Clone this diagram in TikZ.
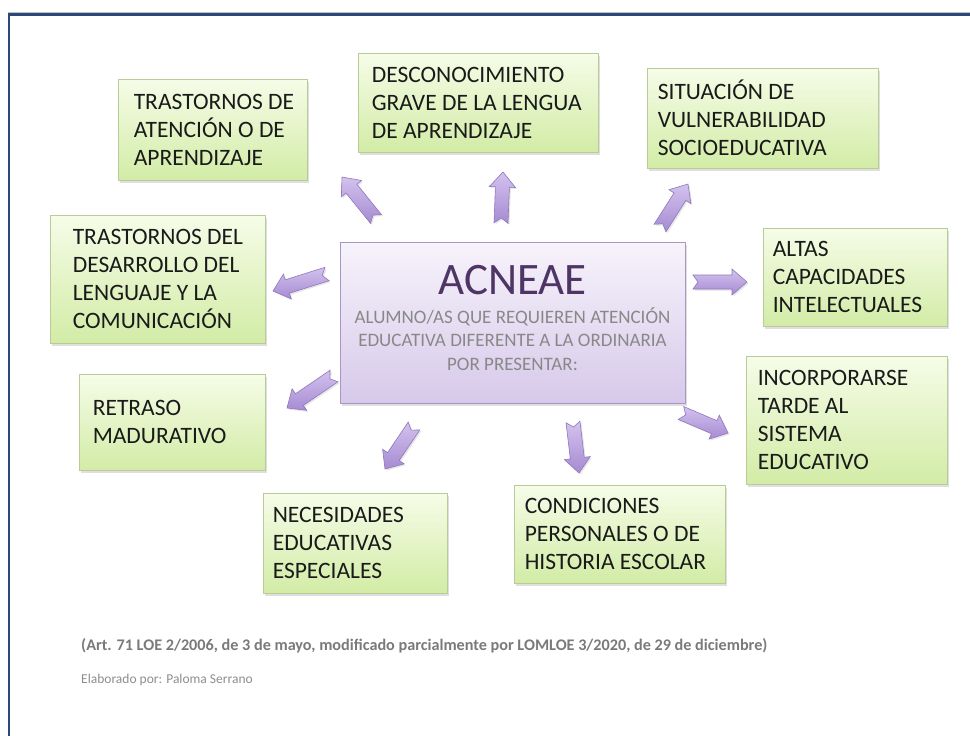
\documentclass[tikz,border=0pt]{standalone}
\usepackage{fontspec}
\setmainfont{Carlito}
\usetikzlibrary{shadows,calc}
\definecolor{boxTop}{HTML}{F6FCE8}
\definecolor{boxBot}{HTML}{D2ECA6}
\definecolor{boxLine}{HTML}{B9CC98}
\definecolor{cTop}{HTML}{F7F3FB}
\definecolor{cBot}{HTML}{D6C9EA}
\definecolor{cLine}{HTML}{A796C6}
\definecolor{titleCol}{HTML}{4E3566}
\definecolor{subCol}{HTML}{888888}
\definecolor{arrTop}{HTML}{D3C2EE}
\definecolor{arrBot}{HTML}{A68BD2}
\definecolor{arrLine}{HTML}{9077BC}
\definecolor{navy}{HTML}{2C4878}
\definecolor{footCol}{HTML}{7A7A7A}
\definecolor{txt}{HTML}{1A1A1A}
\newcommand\blockarrow[2]{%
  \path[arrowsty] let \p1=(#1), \p2=(#2),
    \n1={atan2(\y2-\y1,\x2-\x1)}, \n2={veclen(\x2-\x1,\y2-\y1)} in
    [shift={(\p1)}, rotate=\n1]
    (0pt,-7pt) -- ({\n2-15pt},-7pt) -- ({\n2-15pt},-13pt) -- ({\n2},0pt)
    -- ({\n2-15pt},13pt) -- ({\n2-15pt},7pt) -- (0pt,7pt) -- (5pt,0pt) -- cycle;}
\begin{document}
\begin{tikzpicture}[x=1pt,y=-1pt,
  gbox/.style={draw=boxLine, line width=0.8pt, top color=boxTop, bottom color=boxBot,
    drop shadow={opacity=0.25, shadow xshift=2pt, shadow yshift=-2.5pt}, inner sep=0pt},
  btxt/.style={font=\fontsize{23.5}{28}\selectfont, align=left, inner sep=0pt, text=txt, anchor=west},
  arrowsty/.style={draw=arrLine, line width=0.6pt, top color=arrTop, bottom color=arrBot,
    drop shadow={opacity=0.2, shadow xshift=1.5pt, shadow yshift=-1.5pt}}]
\useasboundingbox (0,0) rectangle (970,736);
\fill[white] (0,0) rectangle (970,736);
% frame
\draw[color=black!25, line width=1pt] (8,12) -- (970,12);
\draw[navy, line width=2.5pt] (9,736) -- (9,14.5) -- (970,14.5);
% center
\node[draw=cLine, line width=0.8pt, top color=cTop, bottom color=cBot, inner sep=0pt,
  minimum width=345pt, minimum height=161pt,
  drop shadow={opacity=0.25, shadow xshift=2pt, shadow yshift=-2.5pt}] (c) at (512.5,322.5) {};
\node[font=\fontsize{45}{48}\selectfont, text=titleCol, inner sep=0pt] (title) at (512.5,280) {ACNEAE};
\node[font=\fontsize{19}{23.5}\selectfont, text=subCol, align=center, inner sep=0pt] (sub) at (512.5,339)
  {ALUMNO/AS QUE REQUIEREN ATENCIÓN\\EDUCATIVA DIFERENTE A LA ORDINARIA\\POR PRESENTAR:};
% boxes
\node[gbox, minimum width=189pt, minimum height=101pt] (b1) at (212.5,129.5) {};
\node[btxt] (t1) at ($(b1.west)+(16,0)$) {TRASTORNOS DE\\ATENCIÓN O DE\\APRENDIZAJE};
\node[gbox, minimum width=240pt, minimum height=99pt] (b2) at (478,102.5) {};
\node[btxt] (t2) at ($(b2.west)+(14,0)$) {DESCONOCIMIENTO\\GRAVE DE LA LENGUA\\DE APRENDIZAJE};
\node[gbox, minimum width=231pt, minimum height=100pt] (b3) at (762.5,118) {};
\node[btxt] (t3) at ($(b3.west)+(11,0)$) {SITUACIÓN DE\\VULNERABILIDAD\\SOCIOEDUCATIVA};
\node[gbox, minimum width=184pt, minimum height=98pt] (b4) at (855,277) {};
\node[btxt] (t4) at ($(b4.west)+(10,0)$) {ALTAS\\CAPACIDADES\\INTELECTUALES};
\node[gbox, minimum width=201pt, minimum height=128pt] (b5) at (846.5,420) {};
\node[btxt] (t5) at ($(b5.west)+(12,0)$) {INCORPORARSE\\TARDE AL\\SISTEMA\\EDUCATIVO};
\node[gbox, minimum width=211pt, minimum height=98pt] (b6) at (619.5,534) {};
\node[btxt] (t6) at ($(b6.west)+(11,0)$) {CONDICIONES\\PERSONALES O DE\\HISTORIA ESCOLAR};
\node[gbox, minimum width=184pt, minimum height=100pt] (b7) at (355,543) {};
\node[btxt] (t7) at ($(b7.west)+(10,0)$) {NECESIDADES\\EDUCATIVAS\\ESPECIALES};
\node[gbox, minimum width=186pt, minimum height=96pt] (b8) at (172,422) {};
\node[btxt] (t8) at ($(b8.west)+(14,0)$) {RETRASO\\MADURATIVO};
\node[gbox, minimum width=215pt, minimum height=128pt] (b9) at (157.5,279) {};
\node[btxt] (t9) at ($(b9.west)+(23,0)$) {TRASTORNOS DEL\\DESARROLLO DEL\\LENGUAJE Y LA\\COMUNICACIÓN};
% arrow ends
\coordinate (s1) at (376,219); \coordinate (e1) at (342,177);
\coordinate (s2) at (501,223); \coordinate (e2) at (503,172);
\coordinate (s3) at (660,228); \coordinate (e3) at (688,184);
\coordinate (s4) at (693,282); \coordinate (e4) at (747,282);
\coordinate (s5) at (327,274); \coordinate (e5) at (273,291);
\coordinate (s6) at (334,376); \coordinate (e6) at (287,408);
\coordinate (s7) at (414,426); \coordinate (e7) at (385,469);
\coordinate (s8) at (573,422); \coordinate (e8) at (579,473);
\coordinate (s9) at (681,413); \coordinate (e9) at (728,433);
\blockarrow{s1}{e1}
\blockarrow{s2}{e2}
\blockarrow{s3}{e3}
\blockarrow{s4}{e4}
\blockarrow{s5}{e5}
\blockarrow{s6}{e6}
\blockarrow{s7}{e7}
\blockarrow{s8}{e8}
\blockarrow{s9}{e9}
% footer
\node[anchor=west, inner sep=0pt, font=\fontsize{16.2}{19}\selectfont\bfseries, text=footCol] (ref) at (81,646)
  {(Art. 71 LOE 2/2006, de 3 de mayo, modificado parcialmente por LOMLOE 3/2020, de 29 de diciembre)};
\node[anchor=west, inner sep=0pt, font=\fontsize{13.5}{16}\selectfont, text=footCol!85] (auth) at (81,680)
  {Elaborado por: Paloma Serrano};
\end{tikzpicture}
\end{document}
